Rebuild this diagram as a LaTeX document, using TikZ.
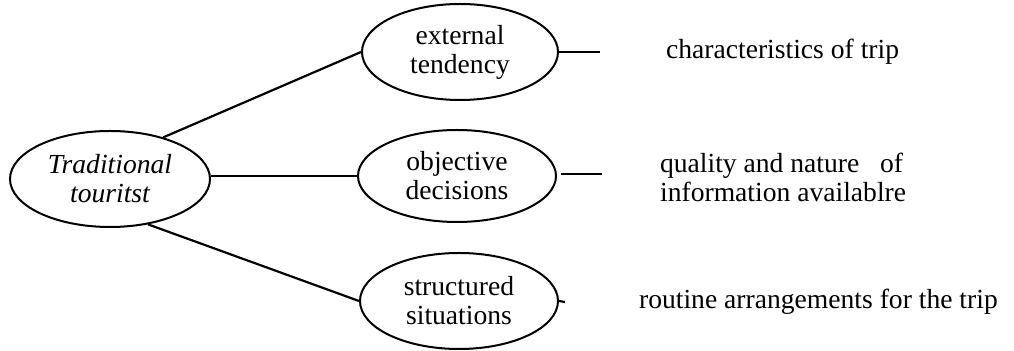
\documentclass[tikz,border=0pt]{standalone}
\usepackage{fontspec}
\setmainfont{Liberation Serif}
\usetikzlibrary{shapes.geometric}

\begin{document}
\begin{tikzpicture}[x=0.5pt,y=-0.5pt,line width=1.1pt,
  font=\fontsize{13.8}{14.5}\selectfont,
  oval/.style={ellipse,draw,line width=1pt,inner sep=0pt,align=center,
    minimum width=99pt,minimum height=47pt},
  note/.style={anchor=west,align=left,inner sep=0pt}]
\useasboundingbox (0,0) rectangle (1014,351);

% the traveller type on the left
\node[oval,minimum width=100pt,minimum height=48pt] at (110,179) (trad) {\itshape Traditional\\\itshape touritst};

% the three traits
\node[oval,minimum width=98pt,minimum height=48pt] at (460,52) (ext) {external\\tendency};
\node[oval,minimum height=46pt] at (457,176) (obj) {objective\\decisions};
\node[oval,minimum height=48pt] at (459,301) (sit) {structured\\situations};

\draw (trad.38) -- (ext.west);
\draw (trad.east |- obj.west) -- (obj.west);
\draw (trad.-50) -- (sit.west);

% short leads to the notes
\coordinate (e1) at (600,52);
\coordinate (o1) at (602,174);
\coordinate (s1) at (565,302);
\draw (ext.east) -- (e1);
\draw[shorten <=2pt] (obj.east |- o1) -- (o1);
\draw (sit.east) -- (s1);

\node[note] at (665,52) (char) {characteristics of trip};
\node[note] at (659,177) (qual) {quality and nature\ \ \ of\\information availablre};
\node[note] at (638,302) (rout) {routine arrangements\ for the trip};
\end{tikzpicture}
\end{document}
